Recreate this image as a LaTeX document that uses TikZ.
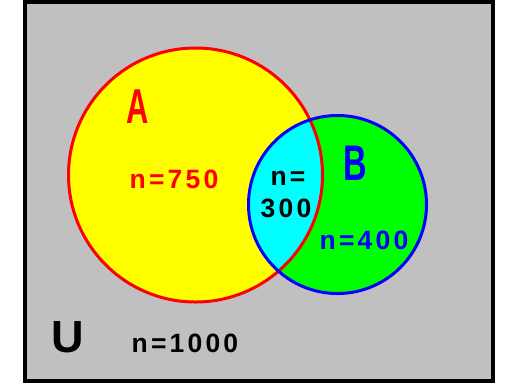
\documentclass[tikz,border=0pt]{standalone}
\usepackage{fontspec}
\setmainfont{Liberation Sans}
\newfontfamily\spacedfont[LetterSpace=12]{Liberation Sans}
\definecolor{ugray}{RGB}{192,192,192}
\definecolor{uyellow}{RGB}{255,255,0}
\definecolor{ugreen}{RGB}{0,255,0}
\definecolor{ucyan}{RGB}{0,255,255}
\definecolor{ured}{RGB}{255,0,0}
\definecolor{ublue}{RGB}{0,0,255}
\begin{document}
\begin{tikzpicture}[x=1pt,y=-1pt,
  lbl/.style={anchor=base,inner sep=0pt,font=\spacedfont\fontsize{26.5}{28}\selectfont\bfseries},
  big/.style={anchor=base,inner sep=0pt,font=\fontsize{49}{50}\selectfont\bfseries}]
\useasboundingbox (0,0) rectangle (508,384);
\fill[white] (0,0) rectangle (508,384);
\draw[line width=4pt,fill=ugray] (25,1.5) rectangle (493,381);
\coordinate (ca) at (195.5,175);
\coordinate (cb) at (337.5,204.5);
\fill[uyellow] (ca) circle[radius=127];
\fill[ugreen] (cb) circle[radius=89];
\begin{scope}
  \clip (ca) circle[radius=127];
  \fill[ucyan] (cb) circle[radius=89];
\end{scope}
\draw[ured,line width=3pt] (ca) circle[radius=127];
\draw[ublue,line width=3pt] (cb) circle[radius=89];
\node[big,text=ured] (la) at (138,123) {\scalebox{0.63}[1]{A}};
\node[big,text=ublue] (lb) at (355,180) {\fontsize{50}{50}\selectfont\scalebox{0.65}[1]{B}};
\node[lbl,text=ured] (n750) at (174,188) {n=750};
\node[lbl,text=black] (n300a) at (288,185) {n=};
\node[lbl,text=black] (n300b) at (286,217) {300};
\node[lbl,text=ublue] (n400) at (364,249) {n=400};
\node[anchor=base,inner sep=0pt,font=\fontsize{45}{45}\selectfont\bfseries] (u) at (68,352) {U};
\node[lbl,text=black] (n1000) at (185,352) {n=1000};
\end{tikzpicture}
\end{document}
